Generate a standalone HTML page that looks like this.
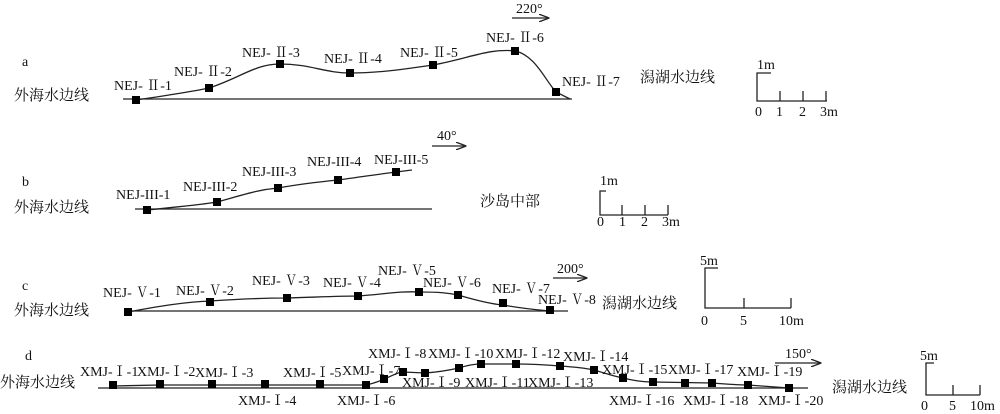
<!DOCTYPE html>
<html><head><meta charset="utf-8"><style>
body{margin:0;background:#fff}
svg{display:block}
text{font-family:"Liberation Serif","Noto Serif CJK SC",serif;font-size:14px;fill:#111}
.cn{font-family:"Liberation Serif","Noto Serif CJK SC","Noto Sans CJK SC",serif;font-size:15px}
.l{stroke:#222;stroke-width:1.3;fill:none}
.m{fill:#000}
</style></head><body>
<svg width="1000" height="414" viewBox="0 0 1000 414" xmlns="http://www.w3.org/2000/svg">
<defs><marker id="ar" markerWidth="8" markerHeight="6" refX="7" refY="3" orient="auto"><path d="M0,0 L8,3 L0,6" fill="none" stroke="#222" stroke-width="1"/></marker></defs>

<!-- panel a -->
<text x="22" y="66">a</text>
<text class="cn" x="14" y="100">外海水边线</text>
<line class="l" x1="123" y1="99" x2="572" y2="99"/>
<path class="l" d="M136,100 C170,95 190,92 209,88 C240,78 255,64 280,64 C310,64 325,73 350,73 C380,73 405,69 433,65 C470,58 490,48 515,51 C535,55 545,80 556,92 L570,99"/>
<g class="m">
<rect x="132" y="96" width="8" height="8"/><rect x="205" y="84" width="8" height="8"/><rect x="276" y="60" width="8" height="8"/><rect x="346" y="69" width="8" height="8"/><rect x="429" y="61" width="8" height="8"/><rect x="511" y="47" width="8" height="8"/><rect x="552" y="88" width="8" height="8"/>
</g>
<text x="114" y="90">NEJ- Ⅱ-1</text>
<text x="174" y="76">NEJ- Ⅱ-2</text>
<text x="242" y="57">NEJ- Ⅱ-3</text>
<text x="324" y="63">NEJ- Ⅱ-4</text>
<text x="400" y="57">NEJ- Ⅱ-5</text>
<text x="486" y="42">NEJ- Ⅱ-6</text>
<text x="562" y="86">NEJ- Ⅱ-7</text>
<text x="516" y="13">220°</text>
<line class="l" x1="512" y1="18" x2="548" y2="18" marker-end="url(#ar)" stroke-width="1"/>
<text class="cn" x="640" y="82">潟湖水边线</text>
<text x="757" y="69">1m</text>
<path class="l" d="M771,73 H757 V101 H827 M780,91 V101 M803,91 V101 M826,91 V101"/>
<text x="755" y="116">0</text><text x="776" y="116">1</text><text x="799" y="116">2</text><text x="820" y="116">3m</text>

<!-- panel b -->
<text x="22" y="186">b</text>
<text class="cn" x="14" y="212">外海水边线</text>
<line class="l" x1="135" y1="209" x2="432" y2="209"/>
<path class="l" d="M147,210 C175,207 200,205 217,202 C240,196 255,190 278,188 C300,184 318,182 338,180 C360,177 380,174 396,172 L412,170"/>
<g class="m"><rect x="143" y="206" width="8" height="8"/><rect x="213" y="198" width="8" height="8"/><rect x="274" y="184" width="8" height="8"/><rect x="334" y="176" width="8" height="8"/><rect x="392" y="168" width="8" height="8"/></g>
<text x="116" y="199">NEJ-III-1</text>
<text x="183" y="191">NEJ-III-2</text>
<text x="242" y="176">NEJ-III-3</text>
<text x="307" y="166">NEJ-III-4</text>
<text x="374" y="164">NEJ-III-5</text>
<text x="437" y="140">40°</text>
<line class="l" x1="432" y1="146" x2="465" y2="146" marker-end="url(#ar)" stroke-width="1"/>
<text class="cn" x="480" y="206">沙岛中部</text>
<text x="600" y="185">1m</text>
<path class="l" d="M606,191 H600 V215 H668 M622,205 V215 M645,205 V215 M668,205 V215"/>
<text x="597" y="226">0</text><text x="619" y="226">1</text><text x="641" y="226">2</text><text x="662" y="226">3m</text>

<!-- panel c -->
<text x="22" y="290">c</text>
<text class="cn" x="14" y="315">外海水边线</text>
<line class="l" x1="128" y1="311" x2="568" y2="311"/>
<path class="l" d="M128,312 C160,306 185,302 210,301 C240,299 265,298 287,298 C320,297 340,296 358,296 C385,294 400,291 419,292 C440,292 448,293 458,295 C475,300 490,304 503,305 C525,309 540,310 550,311"/>
<g class="m"><rect x="124" y="308" width="8" height="8"/><rect x="206" y="298" width="8" height="8"/><rect x="283" y="294" width="8" height="8"/><rect x="354" y="292" width="8" height="8"/><rect x="415" y="288" width="8" height="8"/><rect x="454" y="291" width="8" height="8"/><rect x="499" y="299" width="8" height="8"/><rect x="546" y="306" width="8" height="8"/></g>
<text x="103" y="297">NEJ- Ⅴ-1</text>
<text x="176" y="295">NEJ- Ⅴ-2</text>
<text x="252" y="285">NEJ- Ⅴ-3</text>
<text x="323" y="287">NEJ- Ⅴ-4</text>
<text x="378" y="275">NEJ- Ⅴ-5</text>
<text x="423" y="287">NEJ- Ⅴ-6</text>
<text x="492" y="293">NEJ- Ⅴ-7</text>
<text x="538" y="304">NEJ- Ⅴ-8</text>
<text x="557" y="273">200°</text>
<line class="l" x1="553" y1="278" x2="586" y2="278" marker-end="url(#ar)" stroke-width="1"/>
<text class="cn" x="602" y="308">潟湖水边线</text>
<text x="700" y="265">5m</text>
<path class="l" d="M718,268 H705 V308 H791 M744,298 V308 M791,298 V308"/>
<text x="701" y="325">0</text><text x="740" y="325">5</text><text x="779" y="325">10m</text>

<!-- panel d -->
<text x="25" y="360">d</text>
<text class="cn" x="0" y="387">外海水边线</text>
<line class="l" x1="98" y1="388" x2="808" y2="388"/>
<path class="l" d="M113,386 L160,385 L212,385 L265,385 L320,385 L366,385 C375,383 380,381 384,379 C392,376 398,372 403,372 L425,373 C440,372 450,370 459,368 C468,365 474,364 481,364 L516,364 C535,364 548,365 560,366 C575,367 585,368 594,370 C605,373 612,376 623,378 C635,381 645,382 653,382 L712,383 C725,384 738,385 748,385 L789,388"/>
<g class="m">
<rect x="109" y="381" width="8" height="8"/><rect x="156" y="380" width="8" height="8"/><rect x="208" y="380" width="8" height="8"/><rect x="261" y="380" width="8" height="8"/><rect x="316" y="380" width="8" height="8"/><rect x="362" y="381" width="8" height="8"/><rect x="380" y="375" width="8" height="8"/><rect x="399" y="368" width="8" height="8"/><rect x="421" y="369" width="8" height="8"/><rect x="455" y="364" width="8" height="8"/><rect x="477" y="360" width="8" height="8"/><rect x="512" y="360" width="8" height="8"/><rect x="556" y="362" width="8" height="8"/><rect x="590" y="366" width="8" height="8"/><rect x="619" y="374" width="8" height="8"/><rect x="649" y="378" width="8" height="8"/><rect x="681" y="379" width="8" height="8"/><rect x="708" y="379" width="8" height="8"/><rect x="744" y="381" width="8" height="8"/><rect x="785" y="384" width="8" height="8"/>
</g>
<text x="80" y="376">XMJ-Ⅰ-1</text>
<text x="137" y="376">XMJ-Ⅰ-2</text>
<text x="195" y="377">XMJ-Ⅰ-3</text>
<text x="283" y="377">XMJ-Ⅰ-5</text>
<text x="342" y="375">XMJ-Ⅰ-7</text>
<text x="368" y="358">XMJ-Ⅰ-8</text>
<text x="428" y="358">XMJ-Ⅰ-10</text>
<text x="495" y="358">XMJ-Ⅰ-12</text>
<text x="563" y="361">XMJ-Ⅰ-14</text>
<text x="602" y="374">XMJ-Ⅰ-15</text>
<text x="668" y="374">XMJ-Ⅰ-17</text>
<text x="737" y="376">XMJ-Ⅰ-19</text>
<text x="238" y="405">XMJ-Ⅰ-4</text>
<text x="337" y="405">XMJ-Ⅰ-6</text>
<text x="402" y="387">XMJ-Ⅰ-9</text>
<text x="465" y="387">XMJ-Ⅰ-11</text>
<text x="528" y="387">XMJ-Ⅰ-13</text>
<text x="609" y="405">XMJ-Ⅰ-16</text>
<text x="683" y="405">XMJ-Ⅰ-18</text>
<text x="758" y="405">XMJ-Ⅰ-20</text>
<text x="785" y="358">150°</text>
<line class="l" x1="775" y1="363" x2="820" y2="363" marker-end="url(#ar)" stroke-width="1"/>
<text class="cn" x="832" y="392">潟湖水边线</text>
<text x="920" y="360">5m</text>
<path class="l" d="M934,363 H926 V395 H980 M953,385 V395 M980,385 V395"/>
<text x="921" y="410">0</text><text x="949" y="410">5</text><text x="970" y="410">10m</text>
</svg>
</body></html>
